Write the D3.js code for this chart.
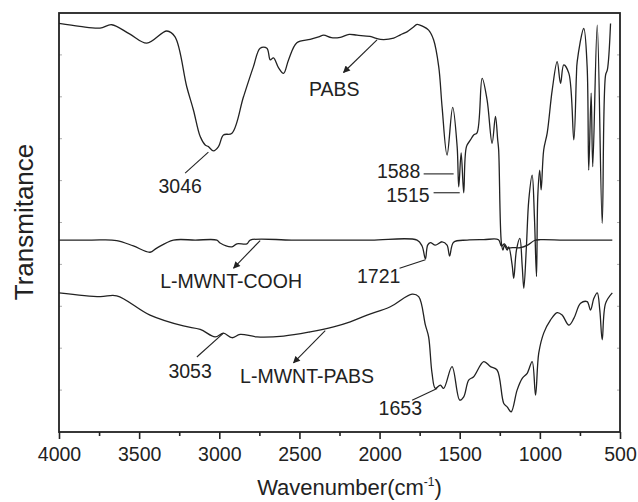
<!DOCTYPE html>
<html>
<head>
<meta charset="utf-8">
<script src="https://cdn.jsdelivr.net/npm/d3@7"></script>
<style>
  body { margin: 0; background: #fff; }
  svg { font-family: "Liberation Sans", Arial, sans-serif; }
  .spectrum { fill: none; stroke: #222; stroke-width: 1.3; stroke-linejoin: round; }
  .frame { fill: none; stroke: #222; stroke-width: 1.8; }
  .note { font-size: 19.5px; fill: #222; }
  .lead { stroke: #222; stroke-width: 1.1; }
</style>
</head>
<body>
<div id="chart"></div>
<script>
// [wavenumber (cm-1), transmittance (a.u.)]
const pabsData = [
  [4000, 97.5], [3870, 96.8], [3744, 96.4], [3671, 97.2], [3560, 95.0], [3452, 92.8],
  [3327, 95.7], [3276, 94.3], [3203, 82.4], [3161, 76.8], [3119, 70.5], [3088, 68.5],
  [3068, 68.1], [3036, 67.1], [3005, 68.1], [2974, 70.9], [2921, 71.3], [2849, 80.0],
  [2787, 87.2], [2745, 91.6], [2703, 91.6], [2682, 88.8], [2662, 89.3], [2630, 86.9],
  [2599, 85.6], [2568, 88.8], [2516, 92.9], [2433, 93.7], [2380, 94.3], [2349, 94.7],
  [2300, 94.1], [2245, 94.2], [2190, 94.9], [2141, 94.7], [2060, 94.4], [1995, 93.7],
  [1912, 94.0], [1870, 94.8], [1829, 95.5], [1790, 96.6], [1766, 97.3], [1730, 96.8],
  [1694, 95.9], [1663, 93.6], [1631, 87.2], [1610, 77.6], [1579, 66.1], [1544, 77.5],
  [1516, 68.1], [1506, 58.5], [1491, 66.6], [1475, 57.1], [1458, 68.1], [1433, 69.7],
  [1413, 70.9], [1392, 71.4], [1360, 84.4], [1329, 79.2], [1298, 68.9], [1277, 75.3],
  [1263, 69.7], [1257, 67.3], [1240, 45.1], [1230, 43.4], [1221, 44.6], [1204, 43.4],
  [1194, 44.2], [1173, 39.9], [1163, 36.7], [1146, 43.4], [1125, 46.2], [1110, 39.5],
  [1100, 34.3], [1084, 44.2], [1069, 55.4], [1048, 61.3], [1034, 51.4], [1021, 37.1],
  [1013, 56.2], [1001, 62.5], [992, 57.8], [976, 67.3], [954, 71.4], [923, 81.6],
  [892, 88.4], [871, 83.2], [851, 87.6], [819, 85.6], [788, 69.7], [772, 85.0],
  [767, 88.4], [726, 96.3], [705, 87.2], [695, 62.5], [680, 80.9], [670, 63.3],
  [642, 97.1], [611, 49.8], [590, 85.2], [579, 86.4], [559, 97.5]
];

const coohData = [
  [4000, 45.8], [3800, 45.8], [3640, 45.7], [3536, 44.4], [3432, 42.9], [3390, 43.9],
  [3286, 45.8], [3150, 45.8], [3015, 45.8], [2995, 45.1], [2921, 44.2], [2890, 44.9],
  [2828, 44.9], [2807, 45.8], [2550, 45.8], [2300, 45.8], [2050, 45.8], [1766, 45.8],
  [1735, 44.4], [1714, 41.3], [1700, 44.6], [1683, 45.2], [1652, 44.6], [1610, 45.4],
  [1579, 44.6], [1563, 42.0], [1538, 45.3], [1454, 45.8], [1350, 45.9], [1258, 45.9],
  [1240, 44.4], [1221, 44.9], [1202, 43.9], [1171, 44.0], [1121, 44.0], [1077, 44.6],
  [1034, 45.7], [996, 45.9], [850, 45.8], [700, 45.8], [548, 45.8]
];

const mwntPabsData = [
  [4000, 33.2], [3744, 32.3], [3640, 32.5], [3432, 27.9], [3224, 25.3], [3119, 24.5],
  [3026, 22.7], [2974, 23.6], [2921, 22.5], [2870, 23.3], [2765, 22.7], [2599, 22.9],
  [2433, 23.9], [2287, 25.1], [2183, 26.3], [2078, 27.9], [1933, 29.9], [1797, 32.9],
  [1756, 32.3], [1714, 25.5], [1694, 22.7], [1673, 14.1], [1652, 10.4], [1621, 11.2],
  [1600, 10.4], [1548, 15.6], [1500, 7.6], [1475, 8.4], [1444, 12.4], [1413, 13.2],
  [1350, 16.8], [1308, 15.6], [1267, 14.8], [1225, 6.8], [1204, 6.0], [1179, 4.8],
  [1142, 10.0], [1110, 12.8], [1079, 14.0], [1048, 16.8], [1027, 8.8], [1007, 18.8],
  [976, 23.6], [934, 26.7], [892, 28.5], [861, 27.9], [819, 25.5], [788, 27.1],
  [746, 30.7], [705, 31.1], [684, 29.1], [663, 31.9], [642, 33.2], [626, 29.1],
  [611, 22.0], [590, 30.7], [548, 33.2]
];

const xMajorTicks = [4000, 3500, 3000, 2500, 2000, 1500, 1000, 500];
const xMinorTicks = [3750, 3250, 2750, 2250, 1750, 1250, 750];
const yMinorTicks = [10, 20, 30, 40, 50, 60, 70, 80, 90];

class SpectraChart {
    constructor(_config) {
        this.config = {
            parentElement: _config.parentElement,
            containerWidth: _config.containerWidth || 638,
            containerHeight: _config.containerHeight || 502,
            margin: _config.margin || {top: 13, right: 18, bottom: 70, left: 59}
        };
        this.initVis();
        this.renderVis();
    }

    initVis() {
        let vis = this;

        vis.width = vis.config.containerWidth - vis.config.margin.left - vis.config.margin.right;
        vis.height = vis.config.containerHeight - vis.config.margin.top - vis.config.margin.bottom;

        vis.svg = d3.select(vis.config.parentElement)
            .append('svg')
            .attr('width', vis.config.containerWidth)
            .attr('height', vis.config.containerHeight);

        vis.svg.append('defs').append('marker')
            .attr('id', 'arrow')
            .attr('viewBox', '0 0 10 10')
            .attr('refX', 9).attr('refY', 5)
            .attr('markerWidth', 9).attr('markerHeight', 7)
            .attr('markerUnits', 'userSpaceOnUse')
            .attr('orient', 'auto')
            .append('path')
            .attr('d', 'M0,0 L10,5 L0,10 Z')
            .attr('fill', '#222');

        vis.chart = vis.svg.append('g')
            .attr('transform', `translate(${vis.config.margin.left},${vis.config.margin.top})`);

        // wavenumber axis runs from high to low
        vis.xScale = d3.scaleLinear().domain([4000, 500]).range([0, vis.width]);
        vis.yScale = d3.scaleLinear().domain([0, 100]).range([vis.height, 0]);

        vis.xAxis = d3.axisBottom(vis.xScale)
            .tickValues(xMajorTicks)
            .tickFormat(d3.format('d'))
            .tickSize(7)
            .tickPadding(8);

        vis.xAxisMinor = d3.axisBottom(vis.xScale)
            .tickValues(xMinorTicks)
            .tickFormat('')
            .tickSize(4);

        vis.line = d3.line()
            .curve(d3.curveCatmullRom.alpha(0.5))
            .x(d => vis.xScale(d[0]))
            .y(d => vis.yScale(d[1]));

        // axis titles
        vis.svg.append('text')
            .attr('transform', `translate(33,222) rotate(-90)`)
            .attr('text-anchor', 'middle')
            .style('font-size', '26px')
            .attr('fill', '#222')
            .text('Transmitance');

        const title = vis.svg.append('text')
            .attr('x', vis.config.margin.left + vis.width / 2 + 10)
            .attr('y', 495)
            .attr('text-anchor', 'middle')
            .style('font-size', '22px')
            .attr('fill', '#222');
        title.append('tspan').text('Wavenumber(cm');
        title.append('tspan').attr('dy', -9).style('font-size', '12px').text('-1');
        title.append('tspan').attr('dy', 9).text(')');
    }

    renderVis() {
        let vis = this;

        vis.chart.selectAll('.spectrum')
            .data([pabsData, coohData, mwntPabsData])
            .join('path')
            .attr('class', 'spectrum')
            .attr('d', vis.line);

        // faint inner ticks on the side frames
        vis.chart.selectAll('.ytick')
            .data(yMinorTicks.flatMap(v => [[0, v, 3], [vis.width, v, -3]]))
            .join('line')
            .attr('class', 'ytick')
            .attr('x1', d => d[0]).attr('x2', d => d[0] + d[2])
            .attr('y1', d => vis.yScale(d[1])).attr('y2', d => vis.yScale(d[1]))
            .attr('stroke', '#999').attr('stroke-width', 0.8);

        vis.chart.append('rect')
            .attr('class', 'frame')
            .attr('width', vis.width)
            .attr('height', vis.height);

        const xAxisG = vis.chart.append('g')
            .attr('transform', `translate(0,${vis.height})`)
            .call(vis.xAxis);
        xAxisG.select('.domain').remove();
        xAxisG.selectAll('line').attr('stroke', '#222').attr('stroke-width', 1.6);
        xAxisG.selectAll('text')
            .style('font-size', '19.5px')
            .style('font-family', '"Liberation Sans", Arial, sans-serif')
            .attr('fill', '#222');

        const minorG = vis.chart.append('g')
            .attr('transform', `translate(0,${vis.height})`)
            .call(vis.xAxisMinor);
        minorG.select('.domain').remove();
        minorG.selectAll('line').attr('stroke', '#222').attr('stroke-width', 1.6);

        // peak labels and leader lines, placed in data coordinates
        const notes = [
            {text: 'PABS', w: 2283, v: 80.1, anchor: 'middle', from: [2016, 93.6], to: [2225, 85.8], arrow: true},
            {text: '3046', w: 3244, v: 57.0, anchor: 'middle', from: [3213, 61.8], to: [3068, 66.8]},
            {text: '1588', w: 1746, v: 60.6, anchor: 'end', from: [1725, 61.6], to: [1538, 61.6]},
            {text: '1515', w: 1688, v: 54.8, anchor: 'end', from: [1663, 57.1], to: [1500, 57.1]},
            {text: 'L-MWNT-COOH', w: 3369, v: 34.4, anchor: 'start', from: [2745, 45.7], to: [2911, 39.1], arrow: true},
            {text: '1721', w: 2141, v: 35.6, anchor: 'start', from: [1875, 39.1], to: [1714, 41.1]},
            {text: '3053', w: 3182, v: 12.9, anchor: 'middle', from: [3140, 17.9], to: [2974, 23.6]},
            {text: 'L-MWNT-PABS', w: 2870, v: 11.7, anchor: 'start', from: [2339, 24.2], to: [2537, 16.5], arrow: true},
            {text: '1653', w: 2006, v: 4.1, anchor: 'start', from: [1797, 7.6], to: [1641, 10.4]}
        ];

        vis.chart.selectAll('.lead')
            .data(notes)
            .join('line')
            .attr('class', 'lead')
            .attr('x1', d => vis.xScale(d.from[0])).attr('y1', d => vis.yScale(d.from[1]))
            .attr('x2', d => vis.xScale(d.to[0])).attr('y2', d => vis.yScale(d.to[1]))
            .attr('marker-end', d => d.arrow ? 'url(#arrow)' : null);

        vis.chart.selectAll('.note')
            .data(notes)
            .join('text')
            .attr('class', 'note')
            .attr('x', d => vis.xScale(d.w))
            .attr('y', d => vis.yScale(d.v))
            .attr('text-anchor', d => d.anchor)
            .text(d => d.text);
    }
}

new SpectraChart({parentElement: '#chart'});
</script>
</body>
</html>
